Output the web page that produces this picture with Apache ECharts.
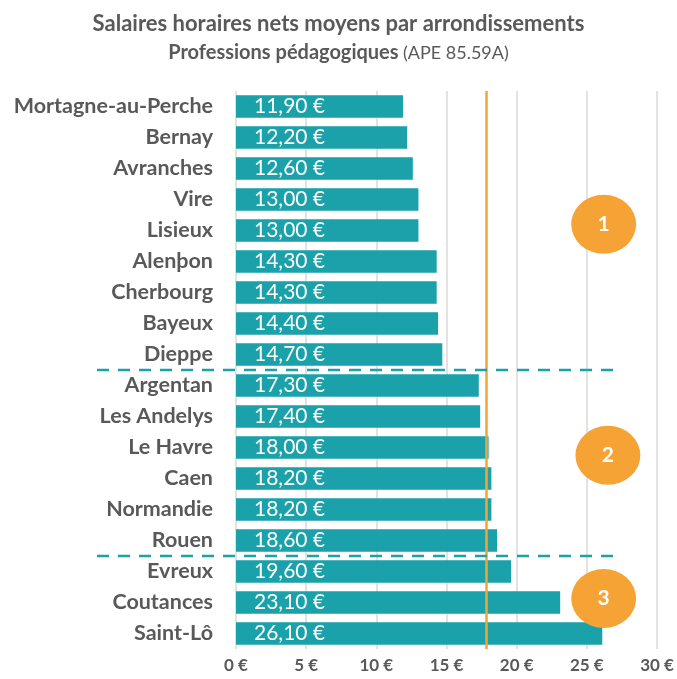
<!DOCTYPE html>
<html>
<head>
<meta charset="utf-8">
<script src="https://cdn.jsdelivr.net/npm/echarts@6/dist/echarts.min.js"></script>
<style>
  html, body { margin: 0; padding: 0; background: #fff; }
  #main { width: 677px; height: 679px; }
</style>
</head>
<body>
<div id="main"></div>
<script>
// données
var villes = ['Mortagne-au-Perche', 'Bernay', 'Avranches', 'Vire', 'Lisieux', 'Alenþon', 'Cherbourg', 'Bayeux', 'Dieppe',
  'Argentan', 'Les Andelys', 'Le Havre', 'Caen', 'Normandie', 'Rouen', 'Evreux', 'Coutances', 'Saint-Lô'];
var salaires = [11.9, 12.2, 12.6, 13.0, 13.0, 14.3, 14.3, 14.4, 14.7,
  17.3, 17.4, 18.0, 18.2, 18.2, 18.6, 19.6, 23.1, 26.1];
var moyenne = 17.8;
var separateurs = [8, 14];      // trait pointillé après ces lignes
var groupes = ['1', '2', '3'];

var font = 'Lato, "Open Sans", sans-serif';
var gris = '#595959';
var teal = '#1aa1a9';
var orange = '#f6a335';

var myChart = echarts.init(document.getElementById('main'));

var option = {
  animation: false,
  backgroundColor: '#fff',
  textStyle: { fontFamily: font },
  title: [
    {
      text: 'Salaires horaires nets moyens par arrondissements',
      left: 'center',
      top: 8,
      textStyle: { fontFamily: font, fontSize: 22, fontWeight: 'bold', color: gris }
    },
    {
      text: '{b|Professions pédagogiques} {n|(APE 85.59A)}',
      left: 'center',
      top: 38,
      textStyle: {
        rich: {
          b: { fontFamily: font, fontSize: 20, fontWeight: 'bold', color: gris },
          n: { fontFamily: font, fontSize: 18, fontWeight: 'normal', color: gris }
        }
      }
    }
  ],
  grid: {
    left: 236,
    right: 20,
    top: 91,
    bottom: 30,
    containLabel: false,
    outerBoundsMode: 'none'
  },
  xAxis: {
    type: 'value',
    min: 0,
    max: 30,
    interval: 5,
    axisLine: { show: false },
    axisTick: { show: false },
    splitLine: { lineStyle: { color: '#d9d9d9', width: 1.5 } },
    axisLabel: {
      formatter: '{value} €',
      color: gris,
      fontFamily: font,
      fontWeight: 'bold',
      fontSize: 17,
      margin: 8
    }
  },
  yAxis: {
    type: 'category',
    inverse: true,
    data: villes,
    axisLine: { show: false },
    axisTick: { show: false },
    axisLabel: {
      color: gris,
      fontFamily: font,
      fontWeight: 'bold',
      fontSize: 21.5,
      margin: 23
    }
  },
  series: [
    {
      type: 'bar',
      data: salaires,
      barCategoryGap: '27%',
      itemStyle: { color: teal },
      label: {
        show: true,
        position: 'insideLeft',
        distance: 18,
        color: '#fff',
        fontFamily: font,
        fontSize: 21,
        formatter: function (p) {
          return p.value.toFixed(2).replace('.', ',') + ' €';
        }
      },
      markLine: {
        silent: true,
        symbol: 'none',
        label: { show: false },
        lineStyle: { color: orange, type: 'solid', width: 2.5 },
        data: [{ xAxis: moyenne }]
      }
    }
  ]
};

myChart.setOption(option);

// positions des décorations calculées depuis les axes
function yPix(idx) {
  var i0 = Math.floor(idx);
  var a = myChart.convertToPixel({ yAxisIndex: 0 }, i0);
  var b = myChart.convertToPixel({ yAxisIndex: 0 }, i0 + 1);
  return a + (b - a) * (idx - i0);
}
function xPix(v) {
  return myChart.convertToPixel({ xAxisIndex: 0 }, v);
}

var graphic = [];
separateurs.forEach(function (i) {
  var y = yPix(i + 0.5);
  graphic.push({
    type: 'line',
    z: 10,
    shape: { x1: 97, y1: y, x2: xPix(27.5), y2: y },
    style: { stroke: teal, lineWidth: 2.5, lineDash: [12, 9] }
  });
});

var badgePos = [[26.2, 3.8], [26.5, 11.25], [26.2, 15.87]];
groupes.forEach(function (g, k) {
  var cx = xPix(badgePos[k][0]);
  var cy = yPix(badgePos[k][1]);
  graphic.push({
    type: 'circle',
    z: 10,
    x: cx,
    y: cy,
    scaleX: 1.1,
    shape: { cx: 0, cy: 0, r: 29.5 },
    style: { fill: orange }
  });
  graphic.push({
    type: 'text',
    z: 11,
    x: cx,
    y: cy,
    style: {
      text: g,
      fill: '#fff',
      font: 'bold 21px ' + font,
      textAlign: 'center',
      textVerticalAlign: 'middle'
    }
  });
});

myChart.setOption({ graphic: graphic });
</script>
</body>
</html>
